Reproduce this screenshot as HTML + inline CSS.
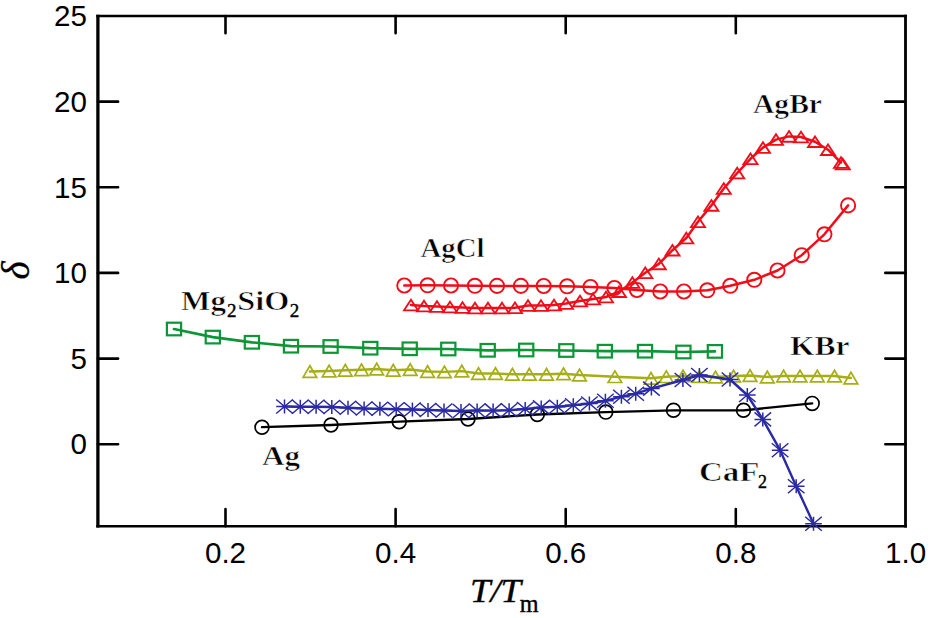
<!DOCTYPE html>
<html><head><meta charset="utf-8"><style>
html,body{margin:0;padding:0;background:#fff;width:935px;height:618px;overflow:hidden}
svg{display:block}
</style></head><body>
<svg width="935" height="618" viewBox="0 0 935 618">
<rect width="935" height="618" fill="#fff"/>
<path d="M97.9,14.8V527.5999999999999" stroke="#000" stroke-width="3.3" fill="none"/><path d="M905.5,14.8V527.5999999999999" stroke="#000" stroke-width="2.8" fill="none"/><path d="M96.30000000000001,16.1H906.9M96.30000000000001,526.3H906.9" stroke="#000" stroke-width="2.5" fill="none"/><g stroke="#000" stroke-width="2.6" stroke-linecap="round" fill="none"><path d="M225.5,526.3V509.09999999999997M225.5,16.1V33.3"/><path d="M395.6,526.3V509.09999999999997M395.6,16.1V33.3"/><path d="M565.7,526.3V509.09999999999997M565.7,16.1V33.3"/><path d="M735.8,526.3V509.09999999999997M735.8,16.1V33.3"/><path d="M97.9,101.65H118.10000000000001M905.5,101.65H885.3"/><path d="M97.9,187.3H118.10000000000001M905.5,187.3H885.3"/><path d="M97.9,272.9H118.10000000000001M905.5,272.9H885.3"/><path d="M97.9,358.6H118.10000000000001M905.5,358.6H885.3"/><path d="M97.9,444.2H118.10000000000001M905.5,444.2H885.3"/></g><g style="font-family:&quot;Liberation Sans&quot;, sans-serif" font-size="29.6" fill="#000"><text x="87" y="26.3" text-anchor="end">25</text><text x="87" y="111.9" text-anchor="end">20</text><text x="87" y="197.5" text-anchor="end">15</text><text x="87" y="283.1" text-anchor="end">10</text><text x="87" y="368.8" text-anchor="end">5</text><text x="87" y="454.4" text-anchor="end">0</text><text x="225.5" y="562.5" text-anchor="middle">0.2</text><text x="395.6" y="562.5" text-anchor="middle">0.4</text><text x="565.7" y="562.5" text-anchor="middle">0.6</text><text x="735.8" y="562.5" text-anchor="middle">0.8</text><text x="905.6" y="562.5" text-anchor="middle">1.0</text></g><polyline points="262.0,427.2 331.0,425.0 399.2,421.7 468.0,419.0 537.3,414.5 605.8,412.1 673.5,410.3 743.5,410.3 812.2,403.4" fill="none" stroke="#000" stroke-width="2.3" stroke-linejoin="round" stroke-linecap="round"/><circle cx="262.0" cy="427.2" r="6.9" fill="none" stroke="#000" stroke-width="1.7"/><circle cx="331.0" cy="425.0" r="6.9" fill="none" stroke="#000" stroke-width="1.7"/><circle cx="399.2" cy="421.7" r="6.9" fill="none" stroke="#000" stroke-width="1.7"/><circle cx="468.0" cy="419.0" r="6.9" fill="none" stroke="#000" stroke-width="1.7"/><circle cx="537.3" cy="414.5" r="6.9" fill="none" stroke="#000" stroke-width="1.7"/><circle cx="605.8" cy="412.1" r="6.9" fill="none" stroke="#000" stroke-width="1.7"/><circle cx="673.5" cy="410.3" r="6.9" fill="none" stroke="#000" stroke-width="1.7"/><circle cx="743.5" cy="410.3" r="6.9" fill="none" stroke="#000" stroke-width="1.7"/><circle cx="812.2" cy="403.4" r="6.9" fill="none" stroke="#000" stroke-width="1.7"/><polyline points="309.9,371.5 329.1,371.0 345.3,370.3 361.5,369.8 376.7,369.0 393.2,370.3 410.2,369.5 427.6,371.5 444.4,371.9 461.8,371.1 478.5,373.5 495.5,373.5 512.4,374.3 529.3,374.3 546.5,374.3 563.5,373.8 579.5,375.0 614.9,376.7 651.0,378.3 666.3,376.7 683.1,375.9 699.4,376.5 715.5,377.0 733.6,376.0 750.0,375.5 767.3,377.0 783.6,376.0 800.0,376.0 817.3,376.0 834.5,376.0 850.9,378.0" fill="none" stroke="#a6ae16" stroke-width="2.4" stroke-linejoin="round" stroke-linecap="round"/><path d="M309.9,365.7 L316.7,377.3 L303.1,377.3 Z" fill="none" stroke="#a6ae16" stroke-width="1.7" stroke-linejoin="miter"/><path d="M329.1,365.2 L335.9,376.8 L322.3,376.8 Z" fill="none" stroke="#a6ae16" stroke-width="1.7" stroke-linejoin="miter"/><path d="M345.3,364.5 L352.1,376.1 L338.5,376.1 Z" fill="none" stroke="#a6ae16" stroke-width="1.7" stroke-linejoin="miter"/><path d="M361.5,364.0 L368.3,375.6 L354.7,375.6 Z" fill="none" stroke="#a6ae16" stroke-width="1.7" stroke-linejoin="miter"/><path d="M376.7,363.2 L383.5,374.8 L369.9,374.8 Z" fill="none" stroke="#a6ae16" stroke-width="1.7" stroke-linejoin="miter"/><path d="M393.2,364.5 L400.0,376.1 L386.4,376.1 Z" fill="none" stroke="#a6ae16" stroke-width="1.7" stroke-linejoin="miter"/><path d="M410.2,363.7 L417.0,375.3 L403.4,375.3 Z" fill="none" stroke="#a6ae16" stroke-width="1.7" stroke-linejoin="miter"/><path d="M427.6,365.7 L434.4,377.3 L420.8,377.3 Z" fill="none" stroke="#a6ae16" stroke-width="1.7" stroke-linejoin="miter"/><path d="M444.4,366.1 L451.2,377.7 L437.6,377.7 Z" fill="none" stroke="#a6ae16" stroke-width="1.7" stroke-linejoin="miter"/><path d="M461.8,365.3 L468.6,376.9 L455.0,376.9 Z" fill="none" stroke="#a6ae16" stroke-width="1.7" stroke-linejoin="miter"/><path d="M478.5,367.7 L485.3,379.3 L471.7,379.3 Z" fill="none" stroke="#a6ae16" stroke-width="1.7" stroke-linejoin="miter"/><path d="M495.5,367.7 L502.3,379.3 L488.7,379.3 Z" fill="none" stroke="#a6ae16" stroke-width="1.7" stroke-linejoin="miter"/><path d="M512.4,368.5 L519.2,380.1 L505.6,380.1 Z" fill="none" stroke="#a6ae16" stroke-width="1.7" stroke-linejoin="miter"/><path d="M529.3,368.5 L536.1,380.1 L522.5,380.1 Z" fill="none" stroke="#a6ae16" stroke-width="1.7" stroke-linejoin="miter"/><path d="M546.5,368.5 L553.3,380.1 L539.7,380.1 Z" fill="none" stroke="#a6ae16" stroke-width="1.7" stroke-linejoin="miter"/><path d="M563.5,368.0 L570.3,379.6 L556.7,379.6 Z" fill="none" stroke="#a6ae16" stroke-width="1.7" stroke-linejoin="miter"/><path d="M579.5,369.2 L586.3,380.8 L572.7,380.8 Z" fill="none" stroke="#a6ae16" stroke-width="1.7" stroke-linejoin="miter"/><path d="M614.9,370.9 L621.7,382.5 L608.1,382.5 Z" fill="none" stroke="#a6ae16" stroke-width="1.7" stroke-linejoin="miter"/><path d="M651.0,372.5 L657.8,384.1 L644.2,384.1 Z" fill="none" stroke="#a6ae16" stroke-width="1.7" stroke-linejoin="miter"/><path d="M666.3,370.9 L673.1,382.5 L659.5,382.5 Z" fill="none" stroke="#a6ae16" stroke-width="1.7" stroke-linejoin="miter"/><path d="M683.1,370.1 L689.9,381.7 L676.3,381.7 Z" fill="none" stroke="#a6ae16" stroke-width="1.7" stroke-linejoin="miter"/><path d="M699.4,370.7 L706.2,382.3 L692.6,382.3 Z" fill="none" stroke="#a6ae16" stroke-width="1.7" stroke-linejoin="miter"/><path d="M715.5,371.2 L722.3,382.8 L708.7,382.8 Z" fill="none" stroke="#a6ae16" stroke-width="1.7" stroke-linejoin="miter"/><path d="M733.6,370.2 L740.4,381.8 L726.8,381.8 Z" fill="none" stroke="#a6ae16" stroke-width="1.7" stroke-linejoin="miter"/><path d="M750.0,369.7 L756.8,381.3 L743.2,381.3 Z" fill="none" stroke="#a6ae16" stroke-width="1.7" stroke-linejoin="miter"/><path d="M767.3,371.2 L774.1,382.8 L760.5,382.8 Z" fill="none" stroke="#a6ae16" stroke-width="1.7" stroke-linejoin="miter"/><path d="M783.6,370.2 L790.4,381.8 L776.8,381.8 Z" fill="none" stroke="#a6ae16" stroke-width="1.7" stroke-linejoin="miter"/><path d="M800.0,370.2 L806.8,381.8 L793.2,381.8 Z" fill="none" stroke="#a6ae16" stroke-width="1.7" stroke-linejoin="miter"/><path d="M817.3,370.2 L824.1,381.8 L810.5,381.8 Z" fill="none" stroke="#a6ae16" stroke-width="1.7" stroke-linejoin="miter"/><path d="M834.5,370.2 L841.3,381.8 L827.7,381.8 Z" fill="none" stroke="#a6ae16" stroke-width="1.7" stroke-linejoin="miter"/><path d="M850.9,372.2 L857.7,383.8 L844.1,383.8 Z" fill="none" stroke="#a6ae16" stroke-width="1.7" stroke-linejoin="miter"/><polyline points="284.5,406.5 300.3,406.8 316.1,406.8 331.8,407.0 348.0,407.8 364.1,408.5 379.9,408.8 396.2,409.2 412.4,409.5 428.0,410.0 444.0,410.5 461.0,411.0 477.1,410.5 493.1,410.6 509.1,410.3 525.2,409.0 541.2,407.4 557.3,406.7 573.3,405.2 589.4,403.5 605.4,400.8 621.4,396.7 635.7,393.7 651.4,388.6 682.9,380.0 699.4,375.0 730.0,379.5 747.3,395.0 762.8,419.4 780.1,450.2 796.2,486.2 813.5,523.7" fill="none" stroke="#2a2aa6" stroke-width="2.4" stroke-linejoin="round" stroke-linecap="round"/><path d="M284.5,399.5V413.5M276.2,406.5H292.8M276.2,399.5L292.8,413.5M276.2,413.5L292.8,399.5" stroke="#2a2aa6" stroke-width="1.5" fill="none"/><path d="M300.3,399.8V413.8M292.0,406.8H308.6M292.0,399.8L308.6,413.8M292.0,413.8L308.6,399.8" stroke="#2a2aa6" stroke-width="1.5" fill="none"/><path d="M316.1,399.8V413.8M307.8,406.8H324.4M307.8,399.8L324.4,413.8M307.8,413.8L324.4,399.8" stroke="#2a2aa6" stroke-width="1.5" fill="none"/><path d="M331.8,400.0V414.0M323.5,407.0H340.1M323.5,400.0L340.1,414.0M323.5,414.0L340.1,400.0" stroke="#2a2aa6" stroke-width="1.5" fill="none"/><path d="M348.0,400.8V414.8M339.7,407.8H356.3M339.7,400.8L356.3,414.8M339.7,414.8L356.3,400.8" stroke="#2a2aa6" stroke-width="1.5" fill="none"/><path d="M364.1,401.5V415.5M355.8,408.5H372.4M355.8,401.5L372.4,415.5M355.8,415.5L372.4,401.5" stroke="#2a2aa6" stroke-width="1.5" fill="none"/><path d="M379.9,401.8V415.8M371.6,408.8H388.2M371.6,401.8L388.2,415.8M371.6,415.8L388.2,401.8" stroke="#2a2aa6" stroke-width="1.5" fill="none"/><path d="M396.2,402.2V416.2M387.9,409.2H404.5M387.9,402.2L404.5,416.2M387.9,416.2L404.5,402.2" stroke="#2a2aa6" stroke-width="1.5" fill="none"/><path d="M412.4,402.5V416.5M404.1,409.5H420.7M404.1,402.5L420.7,416.5M404.1,416.5L420.7,402.5" stroke="#2a2aa6" stroke-width="1.5" fill="none"/><path d="M428.0,403.0V417.0M419.7,410.0H436.3M419.7,403.0L436.3,417.0M419.7,417.0L436.3,403.0" stroke="#2a2aa6" stroke-width="1.5" fill="none"/><path d="M444.0,403.5V417.5M435.7,410.5H452.3M435.7,403.5L452.3,417.5M435.7,417.5L452.3,403.5" stroke="#2a2aa6" stroke-width="1.5" fill="none"/><path d="M461.0,404.0V418.0M452.7,411.0H469.3M452.7,404.0L469.3,418.0M452.7,418.0L469.3,404.0" stroke="#2a2aa6" stroke-width="1.5" fill="none"/><path d="M477.1,403.5V417.5M468.8,410.5H485.4M468.8,403.5L485.4,417.5M468.8,417.5L485.4,403.5" stroke="#2a2aa6" stroke-width="1.5" fill="none"/><path d="M493.1,403.6V417.6M484.8,410.6H501.4M484.8,403.6L501.4,417.6M484.8,417.6L501.4,403.6" stroke="#2a2aa6" stroke-width="1.5" fill="none"/><path d="M509.1,403.3V417.3M500.8,410.3H517.4M500.8,403.3L517.4,417.3M500.8,417.3L517.4,403.3" stroke="#2a2aa6" stroke-width="1.5" fill="none"/><path d="M525.2,402.0V416.0M516.9,409.0H533.5M516.9,402.0L533.5,416.0M516.9,416.0L533.5,402.0" stroke="#2a2aa6" stroke-width="1.5" fill="none"/><path d="M541.2,400.4V414.4M532.9,407.4H549.5M532.9,400.4L549.5,414.4M532.9,414.4L549.5,400.4" stroke="#2a2aa6" stroke-width="1.5" fill="none"/><path d="M557.3,399.7V413.7M549.0,406.7H565.6M549.0,399.7L565.6,413.7M549.0,413.7L565.6,399.7" stroke="#2a2aa6" stroke-width="1.5" fill="none"/><path d="M573.3,398.2V412.2M565.0,405.2H581.6M565.0,398.2L581.6,412.2M565.0,412.2L581.6,398.2" stroke="#2a2aa6" stroke-width="1.5" fill="none"/><path d="M589.4,396.5V410.5M581.1,403.5H597.7M581.1,396.5L597.7,410.5M581.1,410.5L597.7,396.5" stroke="#2a2aa6" stroke-width="1.5" fill="none"/><path d="M605.4,393.8V407.8M597.1,400.8H613.7M597.1,393.8L613.7,407.8M597.1,407.8L613.7,393.8" stroke="#2a2aa6" stroke-width="1.5" fill="none"/><path d="M621.4,389.7V403.7M613.1,396.7H629.7M613.1,389.7L629.7,403.7M613.1,403.7L629.7,389.7" stroke="#2a2aa6" stroke-width="1.5" fill="none"/><path d="M635.7,386.7V400.7M627.4,393.7H644.0M627.4,386.7L644.0,400.7M627.4,400.7L644.0,386.7" stroke="#2a2aa6" stroke-width="1.5" fill="none"/><path d="M651.4,381.6V395.6M643.1,388.6H659.7M643.1,381.6L659.7,395.6M643.1,395.6L659.7,381.6" stroke="#2a2aa6" stroke-width="1.5" fill="none"/><path d="M682.9,373.0V387.0M674.6,380.0H691.2M674.6,373.0L691.2,387.0M674.6,387.0L691.2,373.0" stroke="#2a2aa6" stroke-width="1.5" fill="none"/><path d="M699.4,368.0V382.0M691.1,375.0H707.7M691.1,368.0L707.7,382.0M691.1,382.0L707.7,368.0" stroke="#2a2aa6" stroke-width="1.5" fill="none"/><path d="M730.0,372.5V386.5M721.7,379.5H738.3M721.7,372.5L738.3,386.5M721.7,386.5L738.3,372.5" stroke="#2a2aa6" stroke-width="1.5" fill="none"/><path d="M747.3,388.0V402.0M739.0,395.0H755.6M739.0,388.0L755.6,402.0M739.0,402.0L755.6,388.0" stroke="#2a2aa6" stroke-width="1.5" fill="none"/><path d="M762.8,412.4V426.4M754.5,419.4H771.1M754.5,412.4L771.1,426.4M754.5,426.4L771.1,412.4" stroke="#2a2aa6" stroke-width="1.5" fill="none"/><path d="M780.1,443.2V457.2M771.8,450.2H788.4M771.8,443.2L788.4,457.2M771.8,457.2L788.4,443.2" stroke="#2a2aa6" stroke-width="1.5" fill="none"/><path d="M796.2,479.2V493.2M787.9,486.2H804.5M787.9,479.2L804.5,493.2M787.9,493.2L804.5,479.2" stroke="#2a2aa6" stroke-width="1.5" fill="none"/><path d="M813.5,516.7V530.7M805.2,523.7H821.8M805.2,516.7L821.8,530.7M805.2,530.7L821.8,516.7" stroke="#2a2aa6" stroke-width="1.5" fill="none"/><polyline points="174.0,329.0 212.8,337.1 251.9,342.3 291.0,346.2 330.6,346.5 370.3,348.2 409.7,348.8 448.3,349.0 487.7,350.3 526.2,350.0 566.3,350.5 604.8,351.2 645.0,351.2 683.4,352.0 714.9,351.4" fill="none" stroke="#0c9636" stroke-width="2.7" stroke-linejoin="round" stroke-linecap="round"/><rect x="166.9" y="322.7" width="14.2" height="12.6" fill="none" stroke="#0c9636" stroke-width="2.2"/><rect x="205.7" y="330.8" width="14.2" height="12.6" fill="none" stroke="#0c9636" stroke-width="2.2"/><rect x="244.8" y="336.0" width="14.2" height="12.6" fill="none" stroke="#0c9636" stroke-width="2.2"/><rect x="283.9" y="339.9" width="14.2" height="12.6" fill="none" stroke="#0c9636" stroke-width="2.2"/><rect x="323.5" y="340.2" width="14.2" height="12.6" fill="none" stroke="#0c9636" stroke-width="2.2"/><rect x="363.2" y="341.9" width="14.2" height="12.6" fill="none" stroke="#0c9636" stroke-width="2.2"/><rect x="402.6" y="342.5" width="14.2" height="12.6" fill="none" stroke="#0c9636" stroke-width="2.2"/><rect x="441.2" y="342.7" width="14.2" height="12.6" fill="none" stroke="#0c9636" stroke-width="2.2"/><rect x="480.6" y="344.0" width="14.2" height="12.6" fill="none" stroke="#0c9636" stroke-width="2.2"/><rect x="519.1" y="343.7" width="14.2" height="12.6" fill="none" stroke="#0c9636" stroke-width="2.2"/><rect x="559.2" y="344.2" width="14.2" height="12.6" fill="none" stroke="#0c9636" stroke-width="2.2"/><rect x="597.7" y="344.9" width="14.2" height="12.6" fill="none" stroke="#0c9636" stroke-width="2.2"/><rect x="637.9" y="344.9" width="14.2" height="12.6" fill="none" stroke="#0c9636" stroke-width="2.2"/><rect x="676.3" y="345.7" width="14.2" height="12.6" fill="none" stroke="#0c9636" stroke-width="2.2"/><rect x="707.8" y="345.1" width="14.2" height="12.6" fill="none" stroke="#0c9636" stroke-width="2.2"/><polyline points="411.0,305.0 424.0,306.0 437.0,306.5 450.0,307.0 462.5,307.5 475.0,308.0 488.0,308.0 502.0,308.0 515.0,307.8 528.0,305.5 541.0,305.5 554.0,305.0 566.0,303.5 580.0,301.0 593.0,299.0 606.0,297.0 619.0,291.7 632.4,282.5 645.3,272.8 658.8,263.9 672.5,250.2 686.3,238.0 698.0,221.8 711.4,205.4 723.8,188.5 737.2,173.0 750.5,158.8 763.0,147.6 776.0,139.6 789.0,136.4 801.0,137.0 815.0,141.7 828.0,149.7 841.0,162.6" fill="none" stroke="#f20c18" stroke-width="2.5" stroke-linejoin="round" stroke-linecap="round"/><path d="M411.0,299.7 L418.0,310.3 L404.0,310.3 Z" fill="none" stroke="#f20c18" stroke-width="1.85" stroke-linejoin="miter"/><path d="M424.0,300.7 L431.0,311.3 L417.0,311.3 Z" fill="none" stroke="#f20c18" stroke-width="1.85" stroke-linejoin="miter"/><path d="M437.0,301.2 L444.0,311.8 L430.0,311.8 Z" fill="none" stroke="#f20c18" stroke-width="1.85" stroke-linejoin="miter"/><path d="M450.0,301.7 L457.0,312.3 L443.0,312.3 Z" fill="none" stroke="#f20c18" stroke-width="1.85" stroke-linejoin="miter"/><path d="M462.5,302.2 L469.5,312.8 L455.5,312.8 Z" fill="none" stroke="#f20c18" stroke-width="1.85" stroke-linejoin="miter"/><path d="M475.0,302.7 L482.0,313.3 L468.0,313.3 Z" fill="none" stroke="#f20c18" stroke-width="1.85" stroke-linejoin="miter"/><path d="M488.0,302.7 L495.0,313.3 L481.0,313.3 Z" fill="none" stroke="#f20c18" stroke-width="1.85" stroke-linejoin="miter"/><path d="M502.0,302.7 L509.0,313.3 L495.0,313.3 Z" fill="none" stroke="#f20c18" stroke-width="1.85" stroke-linejoin="miter"/><path d="M515.0,302.5 L522.0,313.1 L508.0,313.1 Z" fill="none" stroke="#f20c18" stroke-width="1.85" stroke-linejoin="miter"/><path d="M528.0,300.2 L535.0,310.8 L521.0,310.8 Z" fill="none" stroke="#f20c18" stroke-width="1.85" stroke-linejoin="miter"/><path d="M541.0,300.2 L548.0,310.8 L534.0,310.8 Z" fill="none" stroke="#f20c18" stroke-width="1.85" stroke-linejoin="miter"/><path d="M554.0,299.7 L561.0,310.3 L547.0,310.3 Z" fill="none" stroke="#f20c18" stroke-width="1.85" stroke-linejoin="miter"/><path d="M566.0,298.2 L573.0,308.8 L559.0,308.8 Z" fill="none" stroke="#f20c18" stroke-width="1.85" stroke-linejoin="miter"/><path d="M580.0,295.7 L587.0,306.3 L573.0,306.3 Z" fill="none" stroke="#f20c18" stroke-width="1.85" stroke-linejoin="miter"/><path d="M593.0,293.7 L600.0,304.3 L586.0,304.3 Z" fill="none" stroke="#f20c18" stroke-width="1.85" stroke-linejoin="miter"/><path d="M606.0,291.7 L613.0,302.3 L599.0,302.3 Z" fill="none" stroke="#f20c18" stroke-width="1.85" stroke-linejoin="miter"/><path d="M619.0,286.4 L626.0,297.0 L612.0,297.0 Z" fill="none" stroke="#f20c18" stroke-width="1.85" stroke-linejoin="miter"/><path d="M632.4,277.2 L639.4,287.8 L625.4,287.8 Z" fill="none" stroke="#f20c18" stroke-width="1.85" stroke-linejoin="miter"/><path d="M645.3,267.5 L652.3,278.1 L638.3,278.1 Z" fill="none" stroke="#f20c18" stroke-width="1.85" stroke-linejoin="miter"/><path d="M658.8,258.6 L665.8,269.2 L651.8,269.2 Z" fill="none" stroke="#f20c18" stroke-width="1.85" stroke-linejoin="miter"/><path d="M672.5,244.9 L679.5,255.5 L665.5,255.5 Z" fill="none" stroke="#f20c18" stroke-width="1.85" stroke-linejoin="miter"/><path d="M686.3,232.7 L693.3,243.3 L679.3,243.3 Z" fill="none" stroke="#f20c18" stroke-width="1.85" stroke-linejoin="miter"/><path d="M698.0,216.5 L705.0,227.1 L691.0,227.1 Z" fill="none" stroke="#f20c18" stroke-width="1.85" stroke-linejoin="miter"/><path d="M711.4,200.1 L718.4,210.7 L704.4,210.7 Z" fill="none" stroke="#f20c18" stroke-width="1.85" stroke-linejoin="miter"/><path d="M723.8,183.2 L730.8,193.8 L716.8,193.8 Z" fill="none" stroke="#f20c18" stroke-width="1.85" stroke-linejoin="miter"/><path d="M737.2,167.7 L744.2,178.3 L730.2,178.3 Z" fill="none" stroke="#f20c18" stroke-width="1.85" stroke-linejoin="miter"/><path d="M750.5,153.5 L757.5,164.1 L743.5,164.1 Z" fill="none" stroke="#f20c18" stroke-width="1.85" stroke-linejoin="miter"/><path d="M763.0,142.3 L770.0,152.9 L756.0,152.9 Z" fill="none" stroke="#f20c18" stroke-width="1.85" stroke-linejoin="miter"/><path d="M776.0,134.3 L783.0,144.9 L769.0,144.9 Z" fill="none" stroke="#f20c18" stroke-width="1.85" stroke-linejoin="miter"/><path d="M789.0,131.1 L796.0,141.7 L782.0,141.7 Z" fill="none" stroke="#f20c18" stroke-width="1.85" stroke-linejoin="miter"/><path d="M801.0,131.7 L808.0,142.3 L794.0,142.3 Z" fill="none" stroke="#f20c18" stroke-width="1.85" stroke-linejoin="miter"/><path d="M815.0,136.4 L822.0,147.0 L808.0,147.0 Z" fill="none" stroke="#f20c18" stroke-width="1.85" stroke-linejoin="miter"/><path d="M828.0,144.4 L835.0,155.0 L821.0,155.0 Z" fill="none" stroke="#f20c18" stroke-width="1.85" stroke-linejoin="miter"/><path d="M841.0,157.3 L848.0,167.9 L834.0,167.9 Z" fill="none" stroke="#f20c18" stroke-width="1.85" stroke-linejoin="miter"/><path d="M842.8,158.7 L849.8,169.3 L835.8,169.3 Z" fill="none" stroke="#f20c18" stroke-width="1.85" stroke-linejoin="miter"/><polyline points="404.3,285.5 427.6,285.3 451.0,285.5 474.9,285.8 497.0,285.9 520.9,285.9 543.7,286.0 567.1,286.3 590.5,287.0 614.4,288.0 636.9,290.0 660.3,291.5 683.9,291.5 707.3,290.3 730.3,285.8 754.3,279.8 777.5,270.5 801.7,255.2 824.4,234.3 848.1,205.4" fill="none" stroke="#f20c18" stroke-width="2.5" stroke-linejoin="round" stroke-linecap="round"/><circle cx="404.3" cy="285.5" r="7.1" fill="none" stroke="#f20c18" stroke-width="1.9"/><circle cx="427.6" cy="285.3" r="7.1" fill="none" stroke="#f20c18" stroke-width="1.9"/><circle cx="451.0" cy="285.5" r="7.1" fill="none" stroke="#f20c18" stroke-width="1.9"/><circle cx="474.9" cy="285.8" r="7.1" fill="none" stroke="#f20c18" stroke-width="1.9"/><circle cx="497.0" cy="285.9" r="7.1" fill="none" stroke="#f20c18" stroke-width="1.9"/><circle cx="520.9" cy="285.9" r="7.1" fill="none" stroke="#f20c18" stroke-width="1.9"/><circle cx="543.7" cy="286.0" r="7.1" fill="none" stroke="#f20c18" stroke-width="1.9"/><circle cx="567.1" cy="286.3" r="7.1" fill="none" stroke="#f20c18" stroke-width="1.9"/><circle cx="590.5" cy="287.0" r="7.1" fill="none" stroke="#f20c18" stroke-width="1.9"/><circle cx="614.4" cy="288.0" r="7.1" fill="none" stroke="#f20c18" stroke-width="1.9"/><circle cx="636.9" cy="290.0" r="7.1" fill="none" stroke="#f20c18" stroke-width="1.9"/><circle cx="660.3" cy="291.5" r="7.1" fill="none" stroke="#f20c18" stroke-width="1.9"/><circle cx="683.9" cy="291.5" r="7.1" fill="none" stroke="#f20c18" stroke-width="1.9"/><circle cx="707.3" cy="290.3" r="7.1" fill="none" stroke="#f20c18" stroke-width="1.9"/><circle cx="730.3" cy="285.8" r="7.1" fill="none" stroke="#f20c18" stroke-width="1.9"/><circle cx="754.3" cy="279.8" r="7.1" fill="none" stroke="#f20c18" stroke-width="1.9"/><circle cx="777.5" cy="270.5" r="7.1" fill="none" stroke="#f20c18" stroke-width="1.9"/><circle cx="801.7" cy="255.2" r="7.1" fill="none" stroke="#f20c18" stroke-width="1.9"/><circle cx="824.4" cy="234.3" r="7.1" fill="none" stroke="#f20c18" stroke-width="1.9"/><circle cx="848.1" cy="205.4" r="7.1" fill="none" stroke="#f20c18" stroke-width="1.9"/><g style="font-family:&quot;Liberation Serif&quot;, serif" font-weight="bold" font-size="27.5" fill="#000"><text x="753" y="112.6" textLength="69" lengthAdjust="spacingAndGlyphs" stroke="#fff" stroke-width="0.6">AgBr</text><text x="420.5" y="257.1" textLength="64" lengthAdjust="spacingAndGlyphs" stroke="#fff" stroke-width="0.6">AgCl</text><text x="181" y="310" textLength="45" lengthAdjust="spacingAndGlyphs" stroke="#fff" stroke-width="0.6">Mg</text><text x="227" y="317" font-size="19" font-weight="normal" stroke="#000" stroke-width="0.4">2</text><text x="237.3" y="310" textLength="52" lengthAdjust="spacingAndGlyphs" stroke="#fff" stroke-width="0.6">SiO</text><text x="289.8" y="317" font-size="19" font-weight="normal" stroke="#000" stroke-width="0.4">2</text><text x="790" y="355.3" textLength="59.5" lengthAdjust="spacingAndGlyphs" stroke="#fff" stroke-width="0.6">KBr</text><text x="262" y="464.8" textLength="38" lengthAdjust="spacingAndGlyphs" stroke="#fff" stroke-width="0.6">Ag</text><text x="699" y="480.8" textLength="60.5" lengthAdjust="spacingAndGlyphs" stroke="#fff" stroke-width="0.6">CaF</text><text x="758" y="487.8" font-size="18" font-weight="normal" stroke="#000" stroke-width="0.4">2</text></g><g style="font-family:&quot;Liberation Serif&quot;, serif" fill="#000"><text x="470" y="602.4" font-size="34" font-style="italic" textLength="51" lengthAdjust="spacingAndGlyphs" stroke="#000" stroke-width="0.4">T/T</text><text x="519.8" y="611.5" font-size="24.2" stroke="#000" stroke-width="0.4">m</text><text transform="translate(29,270.5) rotate(-90)" font-size="39" font-style="italic" text-anchor="middle" stroke="#000" stroke-width="0.3">δ</text></g>
</svg>
</body></html>
